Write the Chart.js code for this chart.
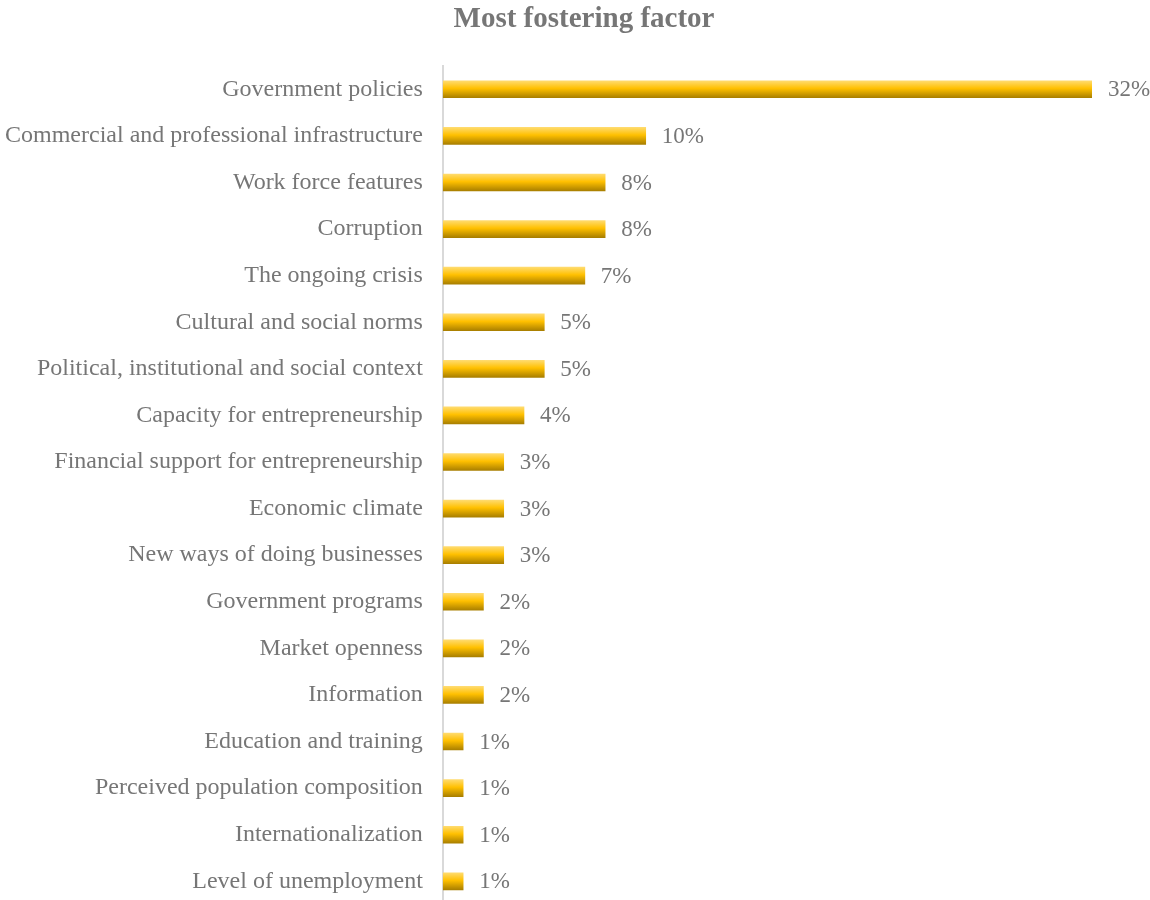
<!DOCTYPE html>
<html>
<head>
<meta charset="utf-8">
<title>Most fostering factor</title>
<script src="https://cdn.jsdelivr.net/npm/chart.js@4/dist/chart.umd.min.js"></script>
<style>
    html, body { margin: 0; padding: 0; background: #ffffff; overflow: hidden; }
    #factorChart { display: block; }
</style>
</head>
<body>
<!-- اللوحة أطول قليلاً من النافذة ليصل المحور إلى الحافة السفلية -->
<canvas id="factorChart" width="1150" height="939"></canvas>
<script>
// العوامل والنسب
const factors = [
    'Government policies',
    'Commercial and professional infrastructure',
    'Work force features',
    'Corruption',
    'The ongoing crisis',
    'Cultural and social norms',
    'Political, institutional and social context',
    'Capacity for entrepreneurship',
    'Financial support for entrepreneurship',
    'Economic climate',
    'New ways of doing businesses',
    'Government programs',
    'Market openness',
    'Information',
    'Education and training',
    'Perceived population composition',
    'Internationalization',
    'Level of unemployment'
];
const shares = [32, 10, 8, 8, 7, 5, 5, 4, 3, 3, 3, 2, 2, 2, 1, 1, 1, 1];
const axisMax = 32;
const chartTitle = 'Most fostering factor';

const textGray = '#767676';
const serif = '"Liberation Serif", "Times New Roman", serif';
const barThickness = 17;

// تدرج ذهبي عمودي لكل شريط
function barGradient(ctx) {
    const chart = ctx.chart;
    const yScale = chart.scales.y;
    if (!yScale || ctx.dataIndex === undefined) return '#ffc000';
    const cy = yScale.getPixelForValue(ctx.dataIndex);
    if (!Number.isFinite(cy)) return '#ffc000';
    const g = chart.ctx.createLinearGradient(0, cy - barThickness / 2, 0, cy + barThickness / 2);
    g.addColorStop(0, '#ffdb6e');
    g.addColorStop(0.45, '#ffc000');
    g.addColorStop(1, '#a97f00');
    return g;
}

// العنوان في منتصف الصفحة
const centeredTitle = {
    id: 'centeredTitle',
    afterDraw(chart) {
        const ctx = chart.ctx;
        ctx.save();
        ctx.font = 'bold 29px ' + serif;
        ctx.fillStyle = textGray;
        ctx.textAlign = 'center';
        ctx.textBaseline = 'alphabetic';
        ctx.fillText(chartTitle, 584, 27);
        ctx.restore();
    }
};

// كتابة النسبة بعد نهاية كل شريط
const valueLabels = {
    id: 'valueLabels',
    afterDatasetsDraw(chart) {
        const ctx = chart.ctx;
        const meta = chart.getDatasetMeta(0);
        ctx.save();
        ctx.font = '23px ' + serif;
        ctx.fillStyle = textGray;
        ctx.textAlign = 'left';
        ctx.textBaseline = 'middle';
        meta.data.forEach((bar, i) => {
            ctx.fillText(shares[i] + '%', bar.x + 16, bar.y + 1);
        });
        ctx.restore();
    }
};

new Chart(document.getElementById('factorChart'), {
    type: 'bar',
    data: {
        labels: factors,
        datasets: [{
            data: shares,
            backgroundColor: barGradient,
            borderWidth: 0,
            barThickness: barThickness
        }]
    },
    options: {
        indexAxis: 'y',
        responsive: false,
        animation: false,
        layout: {
            padding: { left: -15, right: 58, top: 66, bottom: 0 }
        },
        plugins: {
            legend: { display: false },
            tooltip: { enabled: false },
            title: { display: false }
        },
        scales: {
            x: {
                display: false,
                min: 0,
                max: axisMax
            },
            y: {
                grid: { display: false, drawTicks: false },
                border: { display: true, color: '#d9d9d9', width: 2 },
                ticks: {
                    color: textGray,
                    padding: 20,
                    font: { family: serif, size: 24 }
                }
            }
        }
    },
    plugins: [valueLabels, centeredTitle]
});
</script>
</body>
</html>
